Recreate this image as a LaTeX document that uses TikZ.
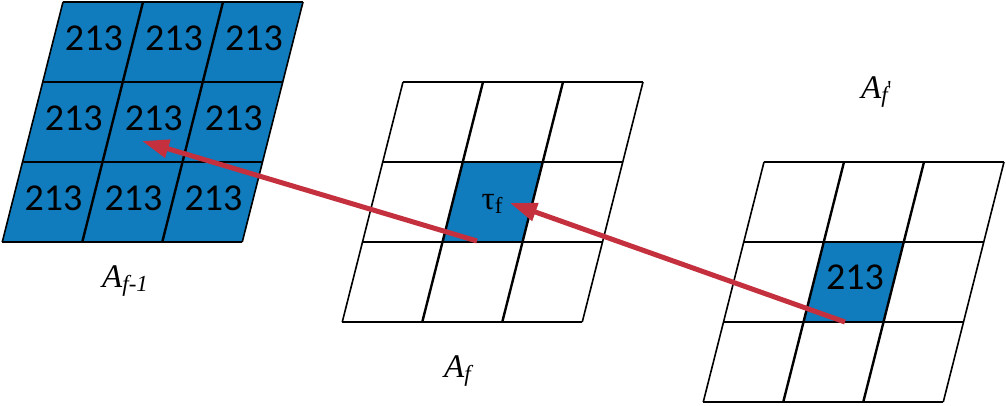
\documentclass[tikz,border=0pt]{standalone}
\usepackage{fontspec}
\newfontfamily\carlito{Carlito}
\newfontfamily\lserif{Liberation Serif}
\usetikzlibrary{arrows.meta}
\definecolor{cellblue}{RGB}{16,124,189}
\definecolor{arrowred}{RGB}{197,48,62}
\tikzset{
  gridline/.style={line width=1.6pt, black},
  innerv/.style={line width=2.4pt, black},
  num/.style={font=\carlito\fontsize{38}{38}\selectfont, inner sep=0pt},
  taulab/.style={font=\lserif\fontsize{33}{33}\selectfont, inner sep=0pt},
  lab/.style={font=\lserif\fontsize{33}{33}\selectfont\itshape, inner sep=0pt, anchor=base west},
  link/.style={arrowred, line width=5pt, -{Triangle[length=27pt,width=18pt]}},
  slantgrid/.style={xslant=0.2531},
}
\newcommand\gridlines{%
  \foreach \j in {0,...,3} \draw[gridline] (0,\j*80) -- (240,\j*80);
  \foreach \i in {0,3} \draw[gridline] (\i*80,0) -- (\i*80,240);
  \foreach \i in {1,2} \draw[innerv] (\i*80,0) -- (\i*80,240);
}
\newcommand\subtxt[1]{\raisebox{-0.3ex}{\fontsize{23}{23}\selectfont #1}}
\begin{document}
\begin{tikzpicture}[x=1pt,y=-1pt]
\useasboundingbox (0,0) rectangle (1006,405);
% left grid A_{f-1}
\begin{scope}[shift={(63,2)}, slantgrid]
  \fill[cellblue] (0,0) rectangle (240,240);
  \gridlines
  \foreach \i in {1,2,3} \foreach \j in {1,2,3}
    \node[num] (L\j\i) at (80*\i-40, 80*\j-44) {213};
\end{scope}
% middle grid A_f
\begin{scope}[shift={(403,82)}, slantgrid]
  \fill[cellblue] (80,80) rectangle (160,160);
  \gridlines
  \node[taulab] (tau) at (120,122) {τ\subtxt{f}};
\end{scope}
% right grid A_f'
\begin{scope}[shift={(764,162)}, slantgrid]
  \fill[cellblue] (80,80) rectangle (160,160);
  \gridlines
  \node[num] (R22) at (120,115) {213};
\end{scope}
% labels
\node[lab] (labL) at (102,287) {A\subtxt{f-1}};
\node[lab] (labM) at (444,377) {A\subtxt{f}};
\node[lab] (labR) at (861,98) {A\subtxt{f\kern-0.5pt\raisebox{0.55ex}{\upshape\textquotesingle}}};
% arrows
\coordinate (r1) at (845,322);
\coordinate (m1) at (510,203);
\coordinate (m2) at (477,241);
\coordinate (l1) at (142,141);
\draw[link] (r1) -- (m1);
\draw[link] (m2) -- (l1);
\end{tikzpicture}
\end{document}
